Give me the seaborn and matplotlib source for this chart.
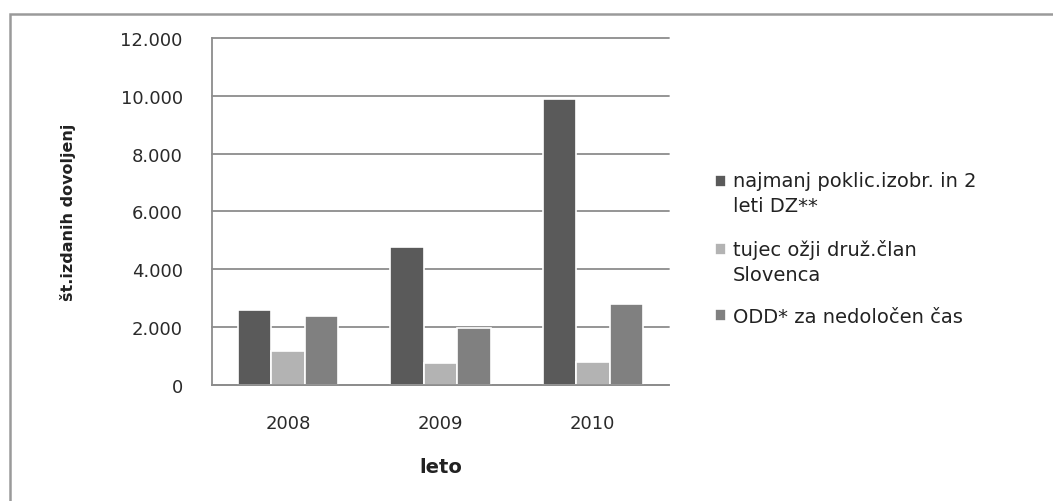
import matplotlib
matplotlib.use("Agg")
import matplotlib.pyplot as plt
import matplotlib.ticker as mticker
import seaborn as sns
import pandas as pd

# --- podatki ---
leta = ["2008", "2009", "2010"]
serije = [
    "najmanj poklic.izobr. in 2\nleti DZ**",
    "tujec ožji druž.član\nSlovenca",
    "ODD* za nedoločen čas",
]
najmanj_poklic = [2600, 4780, 9880]
tujec_clan = [1170, 760, 800]
odd_nedolocen = [2400, 1970, 2800]
barve = ["#5a5a5a", "#b3b3b3", "#808080"]

df = pd.DataFrame({
    "leto": leta * 3,
    "serija": [serije[0]] * 3 + [serije[1]] * 3 + [serije[2]] * 3,
    "vrednost": najmanj_poklic + tujec_clan + odd_nedolocen,
})

sns.set_style("white")
plt.rcParams["font.family"] = ["DejaVu Sans"]

fig = plt.figure(figsize=(10.53, 5.02), dpi=100)
ax = fig.add_axes([0.2013, 0.2311, 0.434, 0.6912])

sns.barplot(data=df, x="leto", y="vrednost", hue="serija", palette=barve,
            width=0.66, edgecolor="white", linewidth=1.2, ax=ax, legend=True)

ax.set_ylim(0, 12000)
ax.set_xlim(-0.5, 2.5)
ax.yaxis.set_major_locator(mticker.MultipleLocator(2000))
ax.yaxis.set_major_formatter(mticker.FuncFormatter(lambda v, p: f"{int(v):,}".replace(",", ".")))
ax.grid(axis="y", color="#8c8c8c", linewidth=1.3)
ax.set_axisbelow(True)
for gl in ax.get_ygridlines():
    gl.set_clip_on(False)

for s in ["top", "right"]:
    ax.spines[s].set_visible(False)
for s in ["left", "bottom"]:
    ax.spines[s].set_color("#8c8c8c")
    ax.spines[s].set_linewidth(1.3)

# kljukice na x med kategorijami
ax.set_xticks([-0.5, 0.5, 1.5, 2.5], minor=True)
ax.tick_params(axis="x", which="minor", length=7, color="#8c8c8c", width=1.3, direction="out")
ax.tick_params(axis="x", which="major", length=0, pad=21, labelsize=13, labelcolor="#2a2a2a")
ax.tick_params(axis="y", length=7, color="#8c8c8c", width=1.3, direction="out", pad=14,
               labelsize=13, labelcolor="#2a2a2a")

ax.set_xlabel("leto", fontsize=14, fontweight="bold", labelpad=18, color="#222222")
ax.set_ylabel("št.izdanih dovoljenj", fontsize=11.5, fontweight="bold", labelpad=32,
              color="#222222", family=["Liberation Sans Narrow", "DejaVu Sans"])

leg = ax.legend(loc="upper left", bbox_to_anchor=(715 / 1053, 1 - 172 / 502),
                bbox_transform=fig.transFigure, frameon=False, borderpad=0, borderaxespad=0,
                fontsize=14, handlelength=0.58, handleheight=0.58, handletextpad=0.35,
                labelspacing=1.2, labelcolor="#222222")
for h, t in zip(leg.legend_handles, leg.get_texts()):
    t.set_linespacing(1.42)
    # kvadratek ob prvi vrstici
    if "\n" in t.get_text():
        h.set_y(h.get_y() + 9.5)

# okvir grafikona
fig.patches.append(plt.Rectangle((10 / 1053, -0.1), 1.2, 1 - 15 / 502 + 0.1,
                                 transform=fig.transFigure, fill=False,
                                 edgecolor="#9a9a9a", linewidth=1.8))

fig.savefig("out.png", dpi=100)
